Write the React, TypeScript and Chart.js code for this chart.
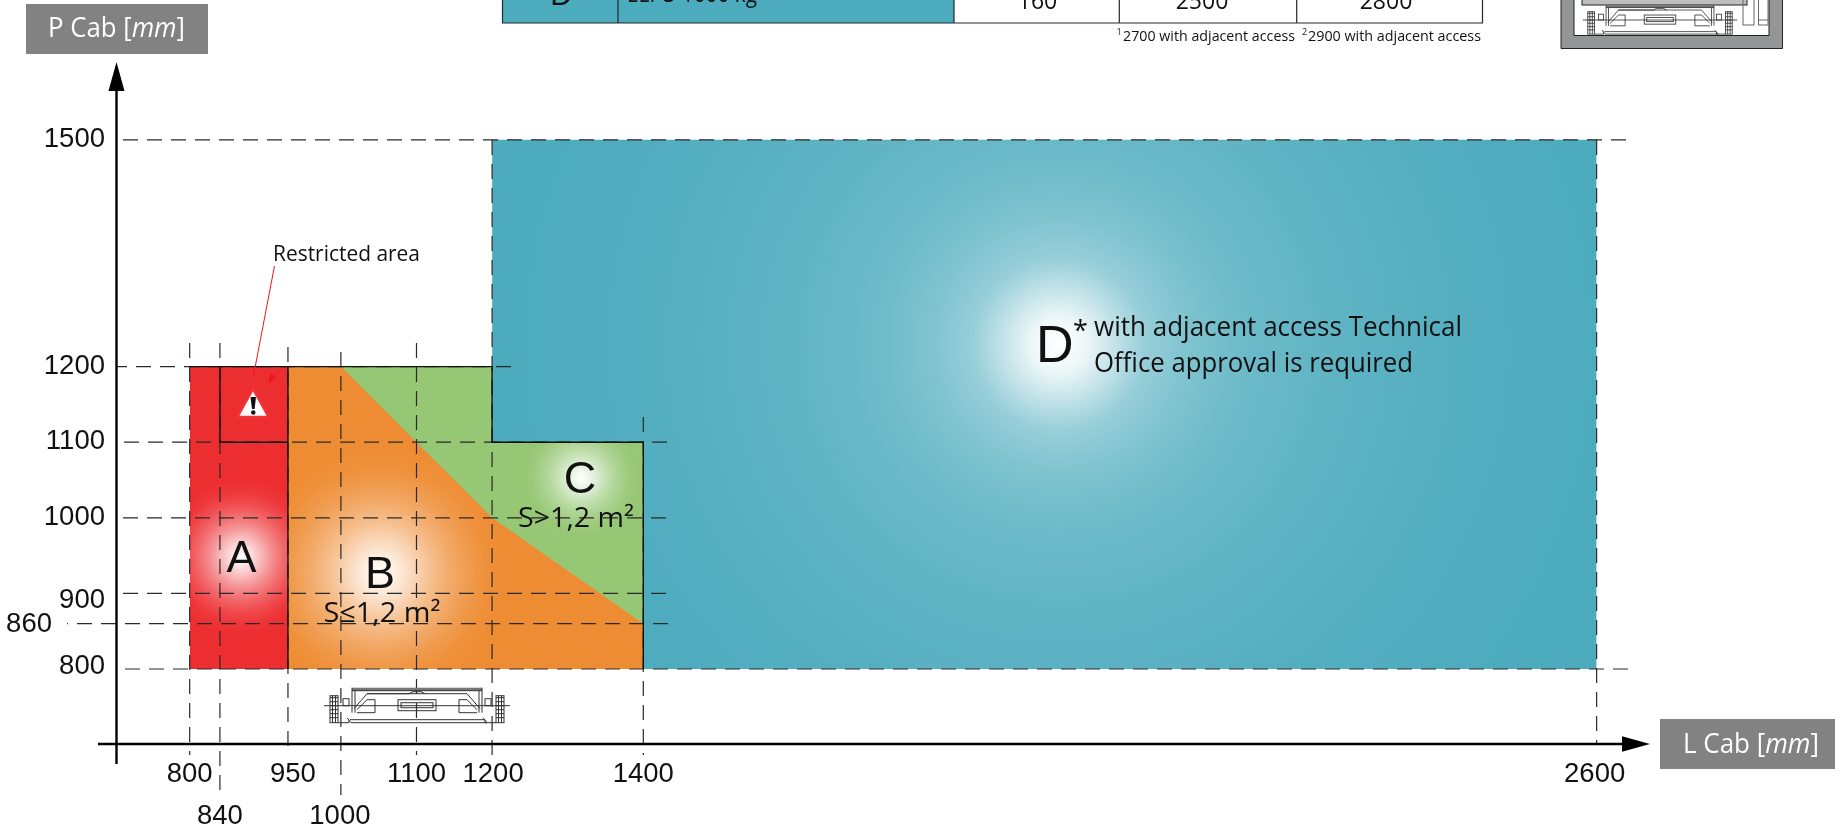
import React, { useEffect, useRef } from "react";
import { Chart, registerables, LinearScale } from "chart.js";

// ---- data -----------------------------------------------------------------
const L_TICKS = [800, 840, 950, 1000, 1100, 1200, 1400, 2600];
const P_TICKS = [800, 860, 900, 1000, 1100, 1200, 1500];

const ZONE_D_L = [1200, 1200, 2600, 2600];
const ZONE_D_P = [800, 1500, 1500, 800];
const ZONE_C_L = [1000, 1200, 1200, 1400];
const ZONE_C_P = [1200, 1200, 1100, 1100];
const ZONE_B_L = [950, 1000, 1100, 1200, 1400];
const ZONE_B_P = [1200, 1200, 1100, 1000, 860];
const ZONE_A_L = [800, 950];
const ZONE_A_P = [1200, 1200];

const TABLE_ROW = ["D", "ELFO 1000 kg", "160", "2500", "2800"];
const FOOTNOTE_1 = "2700 with adjacent access";
const FOOTNOTE_2 = "2900 with adjacent access";

// ---- scale: the drawing places some L values off a strict linear position --
const DRAWN_L: number[][] = [[800, 800], [840, 840], [950, 930], [1000, 1000], [1400, 1400], [2600, 2661]];
function drawnL(v: number) {
  for (let i = 1; i < DRAWN_L.length; i++) {
    const [a, da] = DRAWN_L[i - 1], [b, db] = DRAWN_L[i];
    if (v <= b) return a === b ? da : da + ((v - a) * (db - da)) / (b - a);
  }
  const [b, db] = DRAWN_L[DRAWN_L.length - 1];
  return db + (v - b);
}
const NUDGE: Record<string, Record<number, number[]>> = {
  x: { 800: [0, 0], 950: [5, 0], 1200: [1, 0], 2600: [-2, 0], 840: [0, 42], 1000: [-1, 42] },
  y: { 1500: [0, 0], 1200: [0, -0.5], 1100: [0, -0.5], 1000: [0, -0.5], 900: [0, 7.5], 860: [-53, 0.5], 800: [0, -2.5] },
};
class DrawnScale extends (LinearScale as any) {
  static id = "drawn";
  static defaults = (LinearScale as any).defaults;
  getPixelForValue(v: number) {
    return super.getPixelForValue(this.axis === "x" ? drawnL(v) : v);
  }
  _computeLabelItems(area: any) {
    const items = super._computeLabelItems(area);
    items.forEach((it: any, i: number) => {
      const n = NUDGE[this.axis][this.ticks[i].value];
      if (n) it.options.translation = [it.options.translation[0] + n[0], it.options.translation[1] + n[1]];
    });
    return items;
  }
}
Chart.register(...registerables, DrawnScale as any);

// ---- style ----------------------------------------------------------------
const TEAL = "#4CABBD", GREY = "#828282", INK = "#111";
const RED_RGB = [237, 46, 49], ORANGE_RGB = [238, 140, 51], GREEN_RGB = [150, 199, 116], TEAL_RGB = [76, 171, 189];
const ARIAL = '"Liberation Sans"', MYRIAD = '"Open Sans"';

// how far each gradient has moved from white to the zone colour at each stop
const SOFT_STOPS = [[0, 0], [0.12, 0.14], [0.25, 0.32], [0.4, 0.54], [0.55, 0.72], [0.7, 0.86], [0.85, 0.96], [1, 1]];
const D_STOPS = [[0, 0], [0.05, 0.1], [0.1, 0.32], [0.16, 0.58], [0.24, 0.72], [0.35, 0.82], [0.5, 0.89], [0.75, 0.96], [1, 1]];
const glow = (l: number, p: number, r: number, rgb: number[], table: number[][]) => (c: any) => {
  const chart = c.chart;
  if (!chart.chartArea) return `rgb(${rgb.join(",")})`;
  const x = chart.scales.x.getPixelForValue(l), y = chart.scales.y.getPixelForValue(p);
  const g = chart.ctx.createRadialGradient(x, y, 0, x, y, r);
  table.forEach(([o, f]) => g.addColorStop(o, `rgb(${rgb.map((ch) => Math.round(255 + (ch - 255) * f)).join(",")})`));
  return g;
};
const zone = (xs: number[], ys: number[], bg: any) => ({
  data: xs.map((x, i) => ({ x, y: ys[i] })),
  showLine: true,
  pointRadius: 0,
  borderWidth: 0,
  tension: 0,
  backgroundColor: bg,
  fill: { target: { value: 800 } },
});

function txt(ctx: any, t: string, x: number, y: number, font: string, opts: any = {}) {
  ctx.save();
  ctx.font = font;
  ctx.fillStyle = opts.color || INK;
  ctx.textAlign = opts.align || "left";
  ctx.textBaseline = "alphabetic";
  if (opts.width) {
    const w = ctx.measureText(t).width;
    ctx.translate(x, y);
    ctx.scale(opts.width / w, 1);
    ctx.fillText(t, 0, 0);
  } else ctx.fillText(t, x, y);
  ctx.restore();
}
function axisLabel(ctx: any, box: number[], a: string, x: number, y: number, width: number) {
  ctx.fillStyle = GREY;
  ctx.fillRect(box[0], box[1], box[2], box[3]);
  const N = `27px ${MYRIAD}`, I = `italic 27px ${MYRIAD}`;
  ctx.font = N;
  const w1 = ctx.measureText(a).width;
  ctx.font = I;
  const w2 = ctx.measureText("mm").width;
  ctx.font = N;
  const w3 = ctx.measureText("]").width;
  ctx.save();
  ctx.translate(x, y);
  ctx.scale(width / (w1 + w2 + w3), 1);
  txt(ctx, a, 0, 0, N, { color: "#fff" });
  txt(ctx, "mm", w1, 0, I, { color: "#fff" });
  txt(ctx, "]", w1 + w2, 0, N, { color: "#fff" });
  ctx.restore();
}
function seg(ctx: any, pts: number[]) {
  ctx.beginPath();
  ctx.moveTo(pts[0], pts[1]);
  for (let i = 2; i < pts.length; i += 2) ctx.lineTo(pts[i], pts[i + 1]);
  ctx.stroke();
}
// Car-and-rails plan symbol, centred on (cx, cy)
function cabin(ctx: any, cx: number, cy: number, k: number) {
  ctx.save();
  ctx.translate(cx, cy);
  ctx.scale(k, k);
  ctx.strokeStyle = "#333";
  ctx.lineWidth = 1;
  seg(ctx, [-93, 0, 93, 0]);
  ctx.fillStyle = "#777";
  ctx.fillRect(-65, -18, 130, 3);
  seg(ctx, [-65, -15, 65, -15]);
  seg(ctx, [-65, -18, -65, 7]);
  seg(ctx, [65, -18, 65, 7]);
  seg(ctx, [-62, -15, -62, 7]);
  seg(ctx, [62, -15, 62, 7]);
  seg(ctx, [-63, 3, -50, -12, 50, -12, 63, 3]);
  seg(ctx, [-50, -12, -8, -12, -4, -14, 4, -14, 8, -12]);
  seg(ctx, [-60, 7, -42, 7, -42, -6, -50, -6, -60, 4]);
  seg(ctx, [60, 7, 42, 7, 42, -6, 50, -6, 60, 4]);
  ctx.strokeRect(-19, -6, 38, 11);
  ctx.strokeRect(-16, -3, 32, 5);
  seg(ctx, [-70, 12, -66, 17, 70, 17, 66, 12]);
  seg(ctx, [-67, 14, 67, 14]);
  seg(ctx, [-79, 17, -68, 17, -68, 14]);
  seg(ctx, [79, 17, 68, 17, 68, 14]);
  [-87, 79].forEach((x) => {
    ctx.strokeRect(x, -10, 8, 27);
    seg(ctx, [x + 2.5, -10, x + 2.5, 17]);
    seg(ctx, [x + 5.5, -10, x + 5.5, 17]);
    for (let i = -8; i < 16; i += 4) seg(ctx, [x, i, x + 8, i]);
  });
  [-74, 68].forEach((x) => ctx.strokeRect(x, -7, 6, 7));
  ctx.restore();
}

// ---- the non-data furniture of the drawing ----------------------------------
const H_GUIDES: number[][] = [[1500, 116, 1626], [1200, 116, 511], [1100, 120, 667], [1000, 120, 666], [900, 120, 666], [860, 67, 668], [800, 116, 1628]];
const V_GUIDES: number[][] = [[800, 343, 755], [840, 343, 795], [950, 347, 755], [1000, 352, 795], [1100, 343, 755], [1200, 140, 755], [1400, 417, 755], [2600, 140, 744]];
const SOLID: number[][][] = [
  [[800, 1200], [1200, 1200], [1200, 1100], [1400, 1100], [1400, 800]],
  [[840, 1200], [840, 1100], [950, 1100]],
  [[950, 1200], [950, 800]],
];

const furniture = {
  id: "furniture",
  beforeDraw(chart: any) {
    const ctx = chart.ctx;
    ctx.save();
    // clipped table row at the top
    ctx.fillStyle = TEAL;
    ctx.fillRect(502.5, 0, 451.5, 23);
    ctx.strokeStyle = "#1d2b2e";
    ctx.lineWidth = 1.2;
    seg(ctx, [502.5, 0, 502.5, 23, 1482.5, 23, 1482.5, 0]);
    [618, 954, 1119.3, 1296.7].forEach((x) => seg(ctx, [x, 0, x, 23]));
    txt(ctx, TABLE_ROW[0], 561, 5, `30px ${ARIAL}`, { align: "center" });
    txt(ctx, TABLE_ROW[1], 627, 2, `24px ${MYRIAD}`, { width: 130 });
    txt(ctx, TABLE_ROW[2], 1037.5, 8.5, `23px ${MYRIAD}`, { align: "center" });
    txt(ctx, TABLE_ROW[3], 1202, 8.5, `23px ${MYRIAD}`, { align: "center" });
    txt(ctx, TABLE_ROW[4], 1386, 8.5, `23px ${MYRIAD}`, { align: "center" });
    txt(ctx, "1", 1116.5, 35, `9px ${MYRIAD}`);
    txt(ctx, FOOTNOTE_1, 1123, 40.5, `15px ${MYRIAD}`, { width: 172 });
    txt(ctx, "2", 1302, 35, `9px ${MYRIAD}`);
    txt(ctx, FOOTNOTE_2, 1308, 40.5, `15px ${MYRIAD}`, { width: 173 });

    // shaft thumbnail at the top right
    ctx.fillStyle = "#939598";
    ctx.fillRect(1561, 0, 221.5, 48.5);
    ctx.strokeStyle = "#222";
    ctx.lineWidth = 1;
    seg(ctx, [1561, 0, 1561, 48.5, 1782.5, 48.5, 1782.5, 0]);
    ctx.fillStyle = "#fff";
    ctx.fillRect(1574, 0, 195, 35.5);
    seg(ctx, [1574, 0, 1574, 35.5, 1769, 35.5, 1769, 0]);
    ctx.fillStyle = "#bcbec0";
    ctx.fillRect(1582, 0, 165, 5);
    ctx.strokeRect(1582, -1, 165, 6);
    ctx.fillStyle = "#fff";
    ctx.strokeStyle = "#666";
    ctx.strokeRect(1743, -1, 11, 26);
    ctx.strokeRect(1758.5, -1, 9.5, 26);
    seg(ctx, [1758.5, 20, 1768, 20]);
    cabin(ctx, 1660, 20, 0.83);

    // axis captions
    axisLabel(ctx, [26, 4, 182, 50], "P Cab [", 48, 37, 137);
    axisLabel(ctx, [1660, 719, 175, 50], "L Cab [", 1683, 752.5, 136);
    ctx.restore();
  },
  afterDatasetsDraw(chart: any) {
    const ctx = chart.ctx;
    const X = (v: number) => chart.scales.x.getPixelForValue(v);
    const Y = (v: number) => chart.scales.y.getPixelForValue(v);
    ctx.save();

    // dashed guides (laid out from the far end so that each ends on a dash)
    ctx.strokeStyle = "#2a2a2a";
    ctx.lineWidth = 1.2;
    ctx.setLineDash([15, 9]);
    H_GUIDES.forEach(([v, a, b]) => seg(ctx, [b, Y(v), a, Y(v)]));
    V_GUIDES.forEach(([v, a, b]) => seg(ctx, [X(v), a, X(v), b]));
    ctx.setLineDash([]);

    // solid zone outlines
    ctx.strokeStyle = "#111";
    ctx.lineWidth = 1.4;
    SOLID.forEach((path) => seg(ctx, path.flatMap(([l, p]) => [X(l), Y(p)])));

    cabin(ctx, 417, 705.7, 1);

    // axes with arrow heads
    const ox = chart.chartArea.left, oy = chart.chartArea.bottom, tipY = chart.chartArea.top, tipX = chart.chartArea.right;
    ctx.strokeStyle = "#000";
    ctx.fillStyle = "#000";
    ctx.lineWidth = 2.4;
    seg(ctx, [ox, tipY + 20, ox, 764]);
    seg(ctx, [98, oy, tipX - 20, oy]);
    ctx.beginPath();
    ctx.moveTo(ox, tipY);
    ctx.lineTo(ox - 8, tipY + 29);
    ctx.lineTo(ox + 8, tipY + 29);
    ctx.closePath();
    ctx.fill();
    ctx.beginPath();
    ctx.moveTo(tipX, oy);
    ctx.lineTo(tipX - 28, oy - 7.7);
    ctx.lineTo(tipX - 28, oy + 7.7);
    ctx.closePath();
    ctx.fill();

    // restricted area callout
    ctx.strokeStyle = "#F0141E";
    ctx.lineWidth = 1;
    seg(ctx, [274.5, 266, 253.3, 376.7]);
    ctx.fillStyle = "#F0141E";
    ctx.beginPath();
    ctx.moveTo(270, 373.3);
    ctx.lineTo(276, 376.7);
    ctx.lineTo(268.7, 384);
    ctx.closePath();
    ctx.fill();
    ctx.beginPath();
    ctx.moveTo(253, 389);
    ctx.lineTo(237.5, 417);
    ctx.lineTo(268.5, 417);
    ctx.closePath();
    ctx.fillStyle = "#fff";
    ctx.fill();
    ctx.strokeStyle = "#F2333A";
    ctx.lineWidth = 2.4;
    ctx.lineJoin = "round";
    ctx.stroke();
    ctx.fillStyle = "#111";
    ctx.beginPath();
    ctx.moveTo(250.5, 397);
    ctx.lineTo(256, 397);
    ctx.lineTo(254.6, 409);
    ctx.lineTo(252, 409);
    ctx.closePath();
    ctx.fill();
    ctx.beginPath();
    ctx.arc(253.3, 412.5, 2.2, 0, Math.PI * 2);
    ctx.fill();
    txt(ctx, "Restricted area", 273, 261, `22px ${MYRIAD}`, { width: 147 });

    // zone letters
    const BIG = `45px ${ARIAL}`;
    txt(ctx, "A", 241.5, 571.5, BIG, { align: "center" });
    txt(ctx, "B", 380, 588, BIG, { align: "center" });
    txt(ctx, "C", 580, 492.5, BIG, { align: "center" });
    txt(ctx, "S≤1,2 m²", 323.5, 621.5, `27px ${MYRIAD}`, { width: 117 });
    txt(ctx, "S>1,2 m²", 518, 526.5, `27px ${MYRIAD}`, { width: 116 });
    txt(ctx, "D", 1036, 362, `52px ${ARIAL}`);
    txt(ctx, "*", 1073, 340, `27px ${MYRIAD}`);
    txt(ctx, "with adjacent access Technical", 1094, 336, `28px ${MYRIAD}`, { width: 368 });
    txt(ctx, "Office approval is required", 1094, 372, `28px ${MYRIAD}`, { width: 319 });
    ctx.restore();
  },
};

const TICK_FONT = { family: ARIAL.replace(/"/g, ""), size: 27.5 };
const fit = (w: number | null, h: number | null) => (s: any) => {
  if (w !== null) s.width = w;
  if (h !== null) s.height = h;
  s.paddingLeft = s.paddingRight = s.paddingTop = s.paddingBottom = 0;
};

export default function App() {
  const ref = useRef<HTMLCanvasElement>(null);
  useEffect(() => {
    const chart = new Chart(ref.current as any, {
      type: "scatter",
      data: {
        // Chart.js paints the first dataset last, so the front zone comes first.
        datasets: [
          zone(ZONE_A_L, ZONE_A_P, glow(874, 948, 78, RED_RGB, SOFT_STOPS)),
          zone(ZONE_B_L, ZONE_B_P, glow(1052, 927, 125, ORANGE_RGB, SOFT_STOPS)),
          zone(ZONE_C_L, ZONE_C_P, glow(1318, 1053, 60, GREEN_RGB, SOFT_STOPS)),
          zone(ZONE_D_L, ZONE_D_P, glow(1923, 1229, 540, TEAL_RGB, D_STOPS)),
        ] as any,
      },
      options: {
        animation: false,
        responsive: false,
        devicePixelRatio: 1,
        layout: { padding: { left: 0, top: 62, right: 185, bottom: 0 } },
        plugins: { legend: { display: false }, tooltip: { enabled: false } },
        scales: {
          x: {
            type: "drawn",
            min: 703.2,
            max: 2731.6,
            afterBuildTicks: (s: any) => { s.ticks = L_TICKS.map((value) => ({ value })); },
            afterFit: fit(null, 83),
            grid: { display: false },
            border: { display: false },
            ticks: { autoSkip: false, maxRotation: 0, minRotation: 0, padding: 5.5, color: "#111", font: TICK_FONT, callback: (v: any) => String(v) },
          },
          y: {
            type: "drawn",
            min: 700.8,
            max: 1602.9,
            afterBuildTicks: (s: any) => { s.ticks = P_TICKS.map((value) => ({ value })); },
            afterFit: fit(116.5, null),
            grid: { display: false },
            border: { display: false },
            ticks: { autoSkip: false, padding: 3.5, color: "#111", font: TICK_FONT, callback: (v: any) => String(v) },
          },
        } as any,
      },
      plugins: [furniture],
    });
    return () => chart.destroy();
  }, []);
  return (
    <div style={{ position: "fixed", left: 0, top: 0, width: 1835, height: 827, background: "#fff" }}>
      <canvas ref={ref} width={1835} height={827} style={{ display: "block" }} />
    </div>
  );
}
